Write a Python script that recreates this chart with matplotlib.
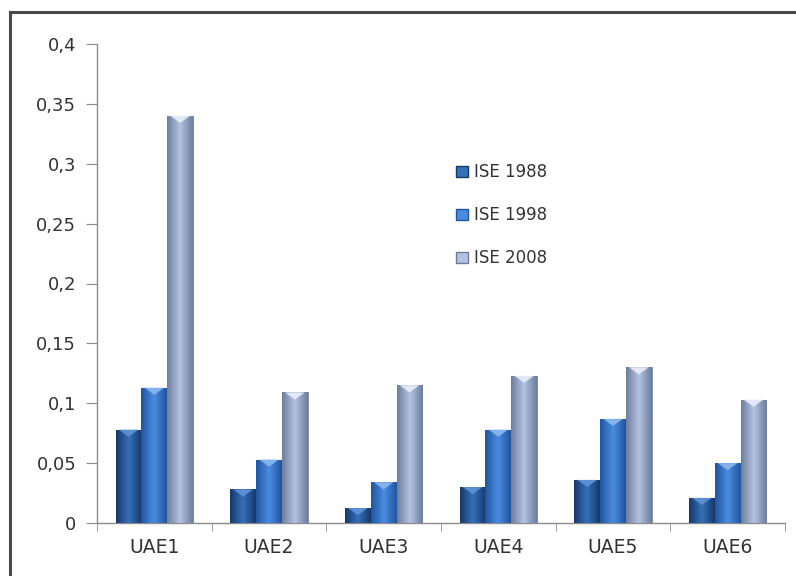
import matplotlib.pyplot as plt
import numpy as np
from matplotlib.colors import LinearSegmentedColormap
from matplotlib.patches import Patch, Polygon
from matplotlib.lines import Line2D

# data
categories = ["UAE1", "UAE2", "UAE3", "UAE4", "UAE5", "UAE6"]
ise_1988 = [0.078, 0.028, 0.0125, 0.030, 0.036, 0.021]
ise_1998 = [0.113, 0.053, 0.034, 0.078, 0.087, 0.050]
ise_2008 = [0.340, 0.109, 0.115, 0.123, 0.130, 0.103]
series_names = ["ISE 1988", "ISE 1998", "ISE 2008"]
yticks = [0, 0.05, 0.1, 0.15, 0.2, 0.25, 0.3, 0.35, 0.4]

# edge / centre colours for the cylinder-ish shading
shades = [
    ("#17386a", "#3470b8", "#5f93d6"),
    ("#20559e", "#4a8be0", "#8ab8f0"),
    ("#6f7d9c", "#b3c2e0", "#e8eefa"),
]

fig = plt.figure(figsize=(7.96, 5.76), dpi=100)
ax = fig.add_axes([97 / 796, 53 / 576, 688 / 796, 479 / 576])

x = np.arange(len(categories))
w = 0.225
series = [ise_1988, ise_1998, ise_2008]

grad = np.linspace(0, 1, 64)
grad = np.minimum(grad, 1 - grad) * 2
grad = np.vstack([grad, grad])

for i, vals in enumerate(series):
    edge, mid, cap = shades[i]
    cmap = LinearSegmentedColormap.from_list("s%d" % i, [edge, mid])
    bars = ax.bar(x + (i - 1) * w, vals, w, color=mid, edgecolor=edge,
                  linewidth=0.6, zorder=2)
    for b in bars:
        x0, y0 = b.get_x(), b.get_y()
        bw, bh = b.get_width(), b.get_height()
        im = ax.imshow(grad, cmap=cmap, aspect="auto", zorder=3,
                       extent=[x0, x0 + bw, y0, y0 + bh], interpolation="bicubic")
        im.set_clip_path(b)
        # light chevron at the top of each bar
        tip = 0.006
        tri = Polygon([[x0 + bw * 0.12, y0 + bh], [x0 + bw * 0.88, y0 + bh],
                       [x0 + bw * 0.5, y0 + bh - tip]], closed=True,
                      facecolor=cap, edgecolor="none", alpha=0.9, zorder=4)
        ax.add_patch(tri)

ax.set_xlim(-0.5, len(categories) - 0.5)
ax.set_ylim(0, 0.4)
ax.set_yticks(yticks)
ax.set_yticklabels([("%g" % t).replace(".", ",") for t in yticks])
ax.set_xticks(x)
ax.set_xticklabels(categories)
ax.set_xticks(np.arange(-0.5, len(categories), 1), minor=True)

for s in ["top", "right"]:
    ax.spines[s].set_visible(False)
for s in ["left", "bottom"]:
    ax.spines[s].set_color("#8c8c8c")
    ax.spines[s].set_linewidth(1.0)

ax.tick_params(axis="y", direction="out", length=8, color="#8c8c8c",
               labelsize=13, labelcolor="#333333", pad=7)
ax.tick_params(axis="x", which="major", length=0, labelsize=13.5,
               labelcolor="#333333", pad=11)
ax.tick_params(axis="x", which="minor", direction="out", length=6,
               color="#8c8c8c")

handles = [Patch(facecolor=shades[i][1], edgecolor=shades[i][0], label=series_names[i])
           for i in range(3)]
ax.legend(handles=handles, loc="upper left", bbox_to_anchor=(0.50, 0.782),
          frameon=False, fontsize=12, labelspacing=1.5, handlelength=0.7,
          handleheight=0.7, handletextpad=0.35, labelcolor="#333333")

# outer chart frame (only top and left edges fall inside the picture)
fig.add_artist(Line2D([10 / 796, 10 / 796], [0, 1 - 12 / 576],
                      color="#4a4a4a", linewidth=2.2))
fig.add_artist(Line2D([10 / 796, 1], [1 - 12 / 576, 1 - 12 / 576],
                      color="#4a4a4a", linewidth=2.2))

fig.savefig("out.png", dpi=100)
